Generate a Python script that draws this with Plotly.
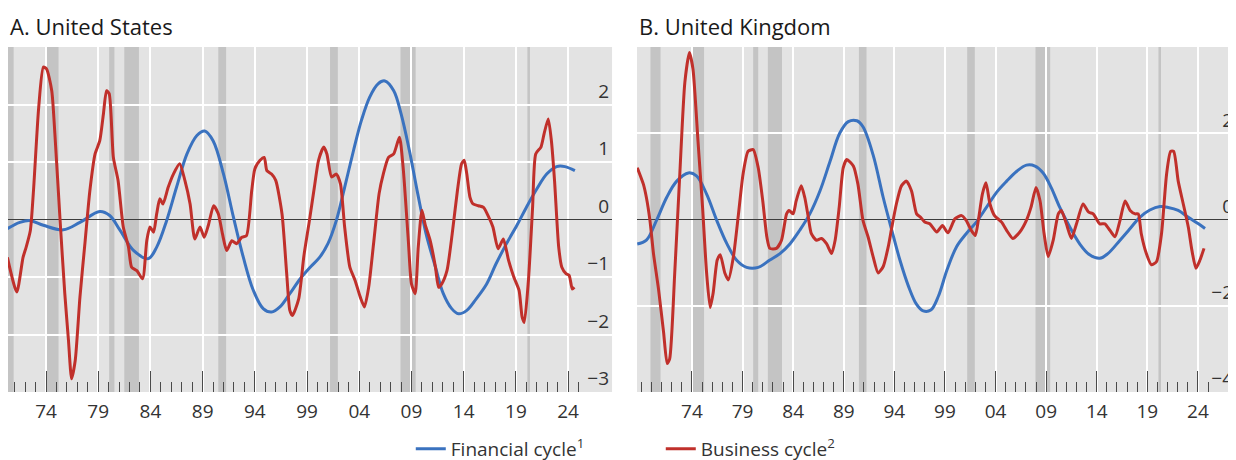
import plotly.graph_objects as go

# ---- United States ----
us_fin_year = [1970.3, 1971.5, 1972.5, 1973.75, 1975.65, 1977.25, 1979.15, 1980.1, 1981.1, 1982.4,
               1983.8, 1984.6, 1985.55, 1986.5, 1987.5, 1988.45, 1989.2, 1990.0, 1991.0, 1991.95,
               1992.9, 1993.85, 1994.8, 1995.6, 1996.4, 1997.35, 1998.35, 1999.3, 2000.2, 2001.0,
               2001.8, 2002.6, 2003.45, 2004.2, 2005.0, 2005.8, 2006.45, 2007.3, 2008.0, 2008.8,
               2009.6, 2010.4, 2011.3, 2012.05, 2012.85, 2013.5, 2014.3, 2015.2, 2016.2, 2017.1,
               2018.1, 2019.1, 2020.0, 2021.0, 2021.95, 2022.9, 2023.7, 2024.65]
us_fin = [-0.16, -0.05, -0.02, -0.10, -0.18, -0.05, 0.14, 0.07, -0.19, -0.54,
          -0.68, -0.48, -0.02, 0.56, 1.14, 1.46, 1.54, 1.37, 0.79, 0.04,
          -0.66, -1.23, -1.55, -1.61, -1.52, -1.29, -1.03, -0.83, -0.66, -0.42,
          -0.02, 0.56, 1.20, 1.72, 2.13, 2.36, 2.41, 2.24, 1.84, 1.20,
          0.45, -0.25, -0.83, -1.29, -1.55, -1.64, -1.58, -1.38, -1.12, -0.77,
          -0.42, -0.10, 0.21, 0.53, 0.79, 0.92, 0.92, 0.85]

us_bus_year = [1970.3, 1971.2, 1971.8, 1972.1, 1972.5, 1972.8, 1973.3, 1973.75, 1974.05, 1974.55,
               1974.85, 1975.35, 1975.8, 1976.15, 1976.45, 1976.8, 1977.25, 1977.75, 1978.2, 1978.7,
               1979.15, 1979.5, 1979.8, 1980.05, 1980.45, 1980.9, 1981.4, 1981.9, 1982.2, 1982.7,
               1983.25, 1983.65, 1983.95, 1984.3, 1984.6, 1984.9, 1985.2, 1985.7, 1986.2, 1986.8,
               1987.3, 1987.8, 1988.25, 1988.75, 1989.15, 1989.55, 1990.05, 1990.5, 1990.9, 1991.3,
               1991.8, 1992.25, 1992.75, 1993.2, 1993.7, 1994.0, 1994.5, 1994.9, 1995.15, 1995.6,
               1996.0, 1996.6, 1997.05, 1997.35, 1997.6, 1998.2, 1998.7, 1999.2, 1999.7, 2000.1,
               2000.6, 2000.9, 2001.35, 2001.8, 2002.2, 2002.6, 2003.1, 2003.6, 2004.1, 2004.5,
               2004.9, 2005.4, 2005.9, 2006.3, 2006.8, 2007.3, 2007.85, 2008.2, 2008.7, 2009.0,
               2009.35, 2009.65, 2010.0, 2010.3, 2010.8, 2011.3, 2011.6, 2011.9, 2012.4, 2012.9,
               2013.4, 2013.8, 2014.05, 2014.3, 2014.6, 2014.9, 2015.4, 2015.9, 2016.4, 2016.8,
               2017.3, 2017.8, 2018.3, 2018.8, 2019.3, 2019.6, 2019.8, 2020.2, 2020.6, 2020.9,
               2021.4, 2021.7, 2022.1, 2022.4, 2022.7, 2023.1, 2023.4, 2023.8, 2024.1, 2024.4,
               2024.6]
us_bus = [-0.66, -1.26, -0.66, -0.48, -0.19, 0.50, 1.95, 2.65, 2.62, 2.24,
          1.49, -0.02, -1.29, -2.10, -2.77, -2.45, -1.35, -0.37, 0.50, 1.14,
          1.37, 1.84, 2.24, 2.19, 1.08, 0.68, -0.13, -0.48, -0.83, -0.89,
          -1.03, -0.37, -0.13, -0.22, 0.10, 0.36, 0.27, 0.56, 0.79, 0.97,
          0.68, 0.27, -0.34, -0.13, -0.31, -0.10, 0.24, 0.10, -0.25, -0.54,
          -0.37, -0.42, -0.31, -0.28, 0.50, 0.88, 1.03, 1.08, 0.85, 0.79,
          0.68, 0.10, -0.94, -1.58, -1.67, -1.38, -0.63, -0.05, 0.56, 1.03,
          1.26, 1.14, 0.74, 0.79, 0.62, -0.13, -0.83, -1.06, -1.35, -1.52,
          -1.18, -0.37, 0.45, 0.79, 1.08, 1.14, 1.43, 0.91, -0.37, -1.12,
          -1.29, -0.48, 0.16, -0.08, -0.37, -0.83, -1.18, -1.12, -0.89, -0.25,
          0.50, 0.97, 1.03, 0.79, 0.39, 0.27, 0.24, 0.21, 0.04, -0.13,
          -0.51, -0.34, -0.71, -1.00, -1.23, -1.70, -1.79, -1.06, 0.21, 1.14,
          1.26, 1.49, 1.75, 1.37, 0.68, -0.48, -0.83, -0.94, -0.97, -1.21,
          -1.18]

# ---- United Kingdom ----
uk_fin_year = [1968.6, 1969.5, 1970.5, 1971.5, 1972.5, 1973.65, 1974.45, 1975.45, 1976.45, 1977.45,
               1978.4, 1979.4, 1980.55, 1981.7, 1982.7, 1983.7, 1984.65, 1985.65, 1986.65, 1987.65,
               1988.6, 1989.45, 1990.3, 1990.9, 1991.9, 1992.9, 1993.75, 1994.55, 1995.4, 1996.2,
               1996.85, 1997.6, 1998.35, 1999.2, 2000.15, 2001.1, 2002.1, 2003.1, 2004.1, 2005.1,
               2006.1, 2007.05, 2007.9, 2008.7, 2009.5, 2010.35, 2011.35, 2012.3, 2013.3, 2014.3,
               2015.1, 2016.3, 2017.3, 2018.25, 2019.25, 2020.25, 2021.05, 2022.05, 2023.05, 2024.05,
               2024.7]
uk_fin = [-0.57, -0.48, -0.02, 0.51, 0.89, 1.08, 1.01, 0.59, -0.02, -0.56,
          -0.94, -1.11, -1.11, -0.94, -0.79, -0.56, -0.25, 0.13, 0.66, 1.35,
          2.00, 2.27, 2.29, 2.15, 1.50, 0.51, -0.25, -0.94, -1.55, -1.97,
          -2.12, -2.10, -1.78, -1.17, -0.63, -0.33, -0.06, 0.28, 0.63, 0.89,
          1.12, 1.26, 1.24, 1.08, 0.74, 0.28, -0.18, -0.56, -0.82, -0.90,
          -0.79, -0.48, -0.21, 0.05, 0.22, 0.30, 0.28, 0.21, 0.05, -0.10,
          -0.21]

uk_bus_year = [1968.6, 1969.2, 1969.5, 1969.85, 1970.2, 1970.7, 1971.2, 1971.55, 1971.8, 1972.3,
               1972.8, 1973.3, 1973.75, 1974.1, 1974.6, 1975.05, 1975.45, 1975.8, 1976.1, 1976.5,
               1976.8, 1977.25, 1977.6, 1978.1, 1978.6, 1979.05, 1979.55, 1980.05, 1980.55, 1981.0,
               1981.4, 1981.7, 1982.35, 1982.85, 1983.35, 1983.6, 1984.0, 1984.3, 1984.8, 1985.15,
               1985.5, 1985.8, 1986.3, 1986.8, 1987.3, 1987.8, 1988.15, 1988.55, 1988.95, 1989.3,
               1989.95, 1990.4, 1990.9, 1991.4, 1991.9, 1992.4, 1992.9, 1993.4, 1993.75, 1994.2,
               1994.7, 1995.2, 1995.7, 1996.2, 1996.6, 1997.0, 1997.5, 1998.2, 1998.75, 1999.3,
               2000.0, 2000.65, 2001.1, 2001.6, 2002.0, 2002.3, 2002.7, 2003.05, 2003.45, 2003.9,
               2004.6, 2005.2, 2005.7, 2006.4, 2007.05, 2007.5, 2008.0, 2008.4, 2008.8, 2009.2,
               2009.7, 2010.2, 2010.5, 2011.0, 2011.5, 2012.0, 2012.65, 2013.2, 2013.65, 2014.3,
               2014.8, 2015.3, 2015.8, 2016.3, 2016.8, 2017.3, 2017.8, 2018.1, 2018.4, 2018.9,
               2019.4, 2019.9, 2020.4, 2020.9, 2021.3, 2021.6, 2022.05, 2022.55, 2023.05, 2023.4,
               2023.8, 2024.2, 2024.6]
uk_bus = [1.20, 0.82, 0.51, -0.02, -0.79, -1.62, -2.62, -3.34, -3.23, -1.24,
          1.05, 3.18, 3.87, 3.49, 1.81, 0.28, -1.24, -2.04, -1.70, -0.94,
          -0.82, -1.24, -1.40, -0.86, 0.13, 1.05, 1.58, 1.62, 1.20, 0.43,
          -0.40, -0.67, -0.67, -0.48, 0.13, 0.21, 0.13, 0.43, 0.78, 0.51,
          0.05, -0.33, -0.48, -0.44, -0.56, -0.79, -0.48, 0.28, 1.20, 1.39,
          1.24, 0.82, -0.02, -0.40, -0.86, -1.24, -1.09, -0.63, -0.18, 0.36,
          0.78, 0.89, 0.66, 0.13, 0.05, -0.06, -0.10, -0.29, -0.14, -0.31,
          0.02, 0.09, -0.02, -0.25, -0.37, -0.02, 0.59, 0.85, 0.36, 0.09,
          -0.06, -0.29, -0.44, -0.29, -0.02, 0.28, 0.74, 0.43, -0.33, -0.86,
          -0.48, 0.13, 0.21, -0.10, -0.44, -0.10, 0.36, 0.17, 0.13, -0.10,
          -0.10, -0.25, -0.40, -0.02, 0.43, 0.21, 0.13, 0.13, -0.33, -0.79,
          -1.05, -0.98, -0.33, 1.05, 1.58, 1.58, 0.89, 0.36, -0.18, -0.71,
          -1.13, -0.94, -0.67]

# recession periods (shaded)
rec_start = [1969.9, 1973.9, 1980.05, 1981.5, 1990.5, 2001.2, 2007.95, 2020.1]
rec_end = [1970.9, 1975.2, 1980.55, 1982.9, 1991.25, 2001.95, 2009.4, 2020.35]

tick_years = [1974, 1979, 1984, 1989, 1994, 1999, 2004, 2009, 2014, 2019, 2024]
tick_text = ["74", "79", "84", "89", "94", "99", "04", "09", "14", "19", "24"]

BLUE = "#3a72bf"
RED = "#c0302b"
FONT = "Open Sans"

fig = go.Figure()

fig.add_trace(go.Scatter(x=us_fin_year, y=us_fin, mode="lines", name="Financial cycle<sup>1</sup>",
                         line=dict(color=BLUE, width=3, shape="spline", smoothing=1),
                         legendgroup="fin", xaxis="x", yaxis="y"))
fig.add_trace(go.Scatter(x=us_bus_year, y=us_bus, mode="lines", name="Business cycle<sup>2</sup>",
                         line=dict(color=RED, width=3, shape="spline", smoothing=0.6),
                         legendgroup="bus", xaxis="x", yaxis="y"))
fig.add_trace(go.Scatter(x=uk_fin_year, y=uk_fin, mode="lines", showlegend=False,
                         line=dict(color=BLUE, width=3, shape="spline", smoothing=1),
                         legendgroup="fin", xaxis="x2", yaxis="y2"))
fig.add_trace(go.Scatter(x=uk_bus_year, y=uk_bus, mode="lines", showlegend=False,
                         line=dict(color=RED, width=3, shape="spline", smoothing=0.6),
                         legendgroup="bus", xaxis="x2", yaxis="y2"))

shapes = []
for xr, yr in [("x", "y domain"), ("x2", "y2 domain")]:
    for s, e in zip(rec_start, rec_end):
        shapes.append(dict(type="rect", xref=xr, yref=yr, x0=s, x1=e, y0=0, y1=1,
                           fillcolor="#c4c4c4", line=dict(width=0), layer="below"))

xaxis_style = dict(
    tickmode="array", tickvals=tick_years, ticktext=tick_text,
    ticks="inside", ticklen=21, tickwidth=1.3, tickcolor="#4a4a4a",
    showgrid=True, gridcolor="white", gridwidth=1.5,
    showline=False, zeroline=False, ticklabelstandoff=6,
    tickfont=dict(family=FONT, size=19, color="#333333"),
    minor=dict(ticks="inside", ticklen=10, tickwidth=1.3, tickcolor="#4a4a4a",
               tickmode="linear", tick0=1969, dtick=1, showgrid=False),
)
yaxis_style = dict(
    side="right", ticks="", ticklabelposition="inside top",
    showgrid=True, gridcolor="white", gridwidth=1.5,
    zeroline=True, zerolinecolor="#3c3c3c", zerolinewidth=1.3,
    showline=False,
    tickfont=dict(family=FONT, size=19, color="#333333"),
)

# the page body adds an 8px margin, so the figure is 8px smaller than the window
fig.update_layout(
    width=1228, height=452,
    margin=dict(l=0, r=0, t=39, b=68, autoexpand=False),
    paper_bgcolor="white", plot_bgcolor="#e3e3e3",
    font=dict(family=FONT, color="#222222"),
    shapes=shapes,
    xaxis=dict(domain=[0, 0.4919], range=[1970.36, 2028.21], anchor="y", **xaxis_style),
    xaxis2=dict(domain=[0.5122, 1], range=[1968.57, 2027.76], anchor="y2", **xaxis_style),
    yaxis=dict(range=[-3, 3], tickvals=[-3, -2, -1, 0, 1, 2], anchor="x", **yaxis_style),
    yaxis2=dict(range=[-4, 4], tickvals=[-4, -2, 0, 2], anchor="x2", **yaxis_style),
    showlegend=True,
    legend=dict(orientation="h", x=0.328, xanchor="left", y=-0.165, yanchor="middle",
                font=dict(family=FONT, size=19, color="#333333"),
                entrywidth=205, entrywidthmode="pixels", bgcolor="rgba(0,0,0,0)"),
    annotations=[
        dict(text="A. United States", xref="x domain", yref="paper", x=0, y=1,
             xanchor="left", yanchor="bottom", yshift=4, showarrow=False,
             font=dict(family=FONT, size=22, color="#1a1a1a")),
        dict(text="B. United Kingdom", xref="x2 domain", yref="paper", x=0, y=1,
             xanchor="left", yanchor="bottom", yshift=4, showarrow=False,
             font=dict(family=FONT, size=22, color="#1a1a1a")),
    ],
)

fig.write_html("out.html")
